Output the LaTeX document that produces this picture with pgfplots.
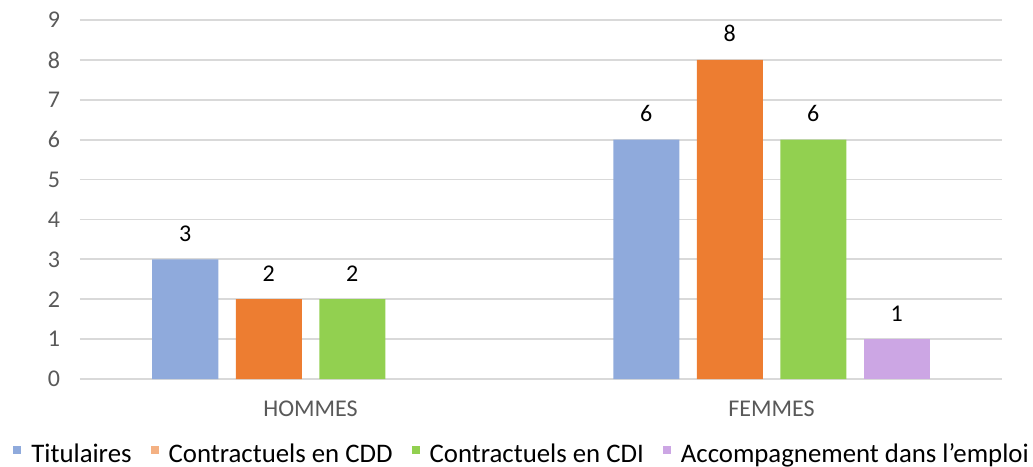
\documentclass[border=0pt]{standalone}
\usepackage{pgfplots}
\pgfplotsset{compat=1.18}
\usepackage{fontspec}
\setmainfont{Carlito}
\definecolor{cblue}{HTML}{8FAADC}
\definecolor{corange}{HTML}{ED7D31}
\definecolor{corangelight}{HTML}{F4B183}
\definecolor{cgreen}{HTML}{92D050}
\definecolor{cpurple}{HTML}{CCA6E4}
\definecolor{gridgray}{HTML}{D9D9D9}
\definecolor{ticklabel}{HTML}{595959}
\begin{document}
\begin{tikzpicture}
\begin{axis}[
  scale only axis, width=461pt, height=179.5pt,
  xmin=-0.5, xmax=1.5, ymin=0, ymax=9,
  ybar, bar width=33pt,
  xtick={0,1}, xticklabels={HOMMES,FEMMES},
  ytick={0,1,...,9},
  ymajorgrids, grid style={color=gridgray, line width=0.9pt},
  axis line style={draw=none},
  major tick length=0pt,
  tick label style={font=\fontsize{12}{14}\selectfont, color=ticklabel},
  yticklabel style={xshift=-6.5pt},
  xticklabel style={yshift=-7.5pt},
  /pgf/number format/assume math mode=true,
  nodes near coords,
  every node near coord/.append style={font=\fontsize{12}{14}\selectfont, color=black, yshift=5.5pt},
  legend columns=4,
  legend style={draw=none, fill=none, font=\fontsize{13.4}{15}\selectfont,
    at={(rel axis cs:0,0)}, anchor=north west, xshift=-36.5pt, yshift=-28pt,
    /tikz/every even column/.append style={column sep=7.5pt},
    /tikz/every odd column/.append style={column sep=3pt}},
]
\addplot[fill=cblue, draw=none, bar shift=-62.625pt,
  legend image code/.code={\fill[cblue] (0pt,0pt) rectangle (4pt,4pt);}]
  coordinates {(0,3) (1,6)};
\addlegendentry{Titulaires}
\addplot[fill=corange, draw=none, bar shift=-20.875pt,
  legend image code/.code={\fill[corangelight] (0pt,0pt) rectangle (4pt,4pt);}]
  coordinates {(0,2) (1,8)};
\addlegendentry{Contractuels en CDD}
\addplot[fill=cgreen, draw=none, bar shift=20.875pt,
  legend image code/.code={\fill[cgreen] (0pt,0pt) rectangle (4pt,4pt);}]
  coordinates {(0,2) (1,6)};
\addlegendentry{Contractuels en CDI}
\addplot[fill=cpurple, draw=none, bar shift=62.625pt,
  legend image code/.code={\fill[cpurple] (0pt,0pt) rectangle (4pt,4pt);}]
  coordinates {(1,1)};
\addlegendentry{Accompagnement dans l’emploi}
\end{axis}
\pgfresetboundingbox
\path[use as bounding box] (-40pt,-43.5pt) rectangle (476.5pt,189.5pt);
\end{tikzpicture}
\end{document}
